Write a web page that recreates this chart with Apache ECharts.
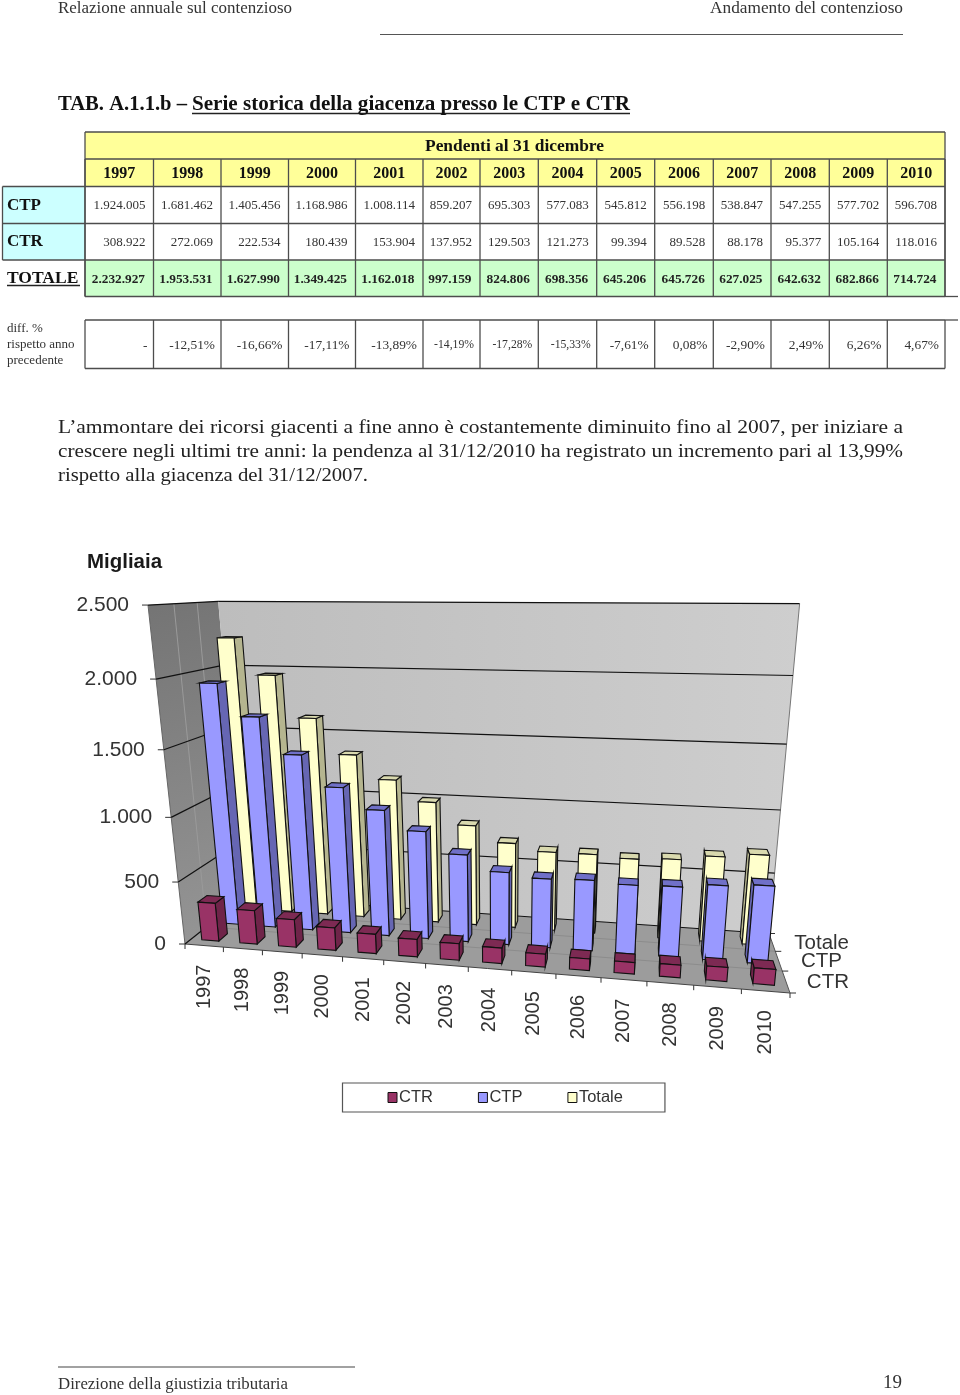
<!DOCTYPE html>
<html>
<head>
<meta charset="utf-8">
<style>html,body{margin:0;padding:0;background:#fff}#c{width:960px;height:1395px}</style>
<script src="https://cdn.jsdelivr.net/npm/echarts@6/dist/echarts.min.js"></script>
</head>
<body>
<div id="c"></div>
<script>
// ---------- data ----------
const years = ['1997','1998','1999','2000','2001','2002','2003','2004','2005','2006','2007','2008','2009','2010'];
const ctp = [1924005,1681462,1405456,1168986,1008114,859207,695303,577083,545812,556198,538847,547255,577702,596708];
const ctr = [308922,272069,222534,180439,153904,137952,129503,121273,99394,89528,88178,95377,105164,118016];
const totale = [2232927,1953531,1627990,1349425,1162018,997159,824806,698356,645206,645726,627025,642632,682866,714724];
const diffPct = ['-','-12,51%','-16,66%','-17,11%','-13,89%','-14,19%','-17,28%','-15,33%','-7,61%','0,08%','-2,90%','2,49%','6,26%','4,67%'];
const valueTicks = [0,500,1000,1500,2000,2500];
const tickLabels = ['0','500','1.000','1.500','2.000','2.500'];
const depthLabels = ['CTR','CTP','Totale'];
const paragraph = [
  'L\u2019ammontare dei ricorsi giacenti a fine anno è costantemente diminuito fino al 2007, per iniziare a',
  'crescere negli ultimi tre anni: la pendenza al 31/12/2010 ha registrato un incremento pari al 13,99%',
  'rispetto alla giacenza del 31/12/2007.'
];

// ---------- layout ----------
const SERIF = '"Liberation Serif"', SANS = '"Liberation Sans"';
const colX = [85,153.5,221,288.5,355.5,423,480,538.3,596.7,654.7,713.3,771,829.3,887.3,945];
const rowY = {top:132,head:159,years:186.5,ctp:223.5,ctr:260,tot:296.5,dTop:320,dBot:368.5};
const LINE = '#4d4d4d';
const GRID = {left:150,top:600,width:640,height:340};

// perspective: floor quad (front-left, front-right, back-right, back-left), vertical vanishing point
const Q = [[185,944],[790,993],[769,933.5],[244,897]];
const VP = [500,3830], K = -0.1051;
const H = (function(){
  const [p0,p1,p2,p3]=Q;
  const dx1=p1[0]-p2[0],dx2=p3[0]-p2[0],sx=p0[0]-p1[0]+p2[0]-p3[0];
  const dy1=p1[1]-p2[1],dy2=p3[1]-p2[1],sy=p0[1]-p1[1]+p2[1]-p3[1];
  const den=dx1*dy2-dx2*dy1;
  const g=(sx*dy2-dx2*sy)/den,h=(dx1*sy-sx*dy1)/den;
  return {a:p1[0]-p0[0]+g*p1[0],b:p3[0]-p0[0]+h*p3[0],c:p0[0],d:p1[1]-p0[1]+g*p1[1],e:p3[1]-p0[1]+h*p3[1],f:p0[1],g:g,h:h};
})();
function proj(u,w,vf){
  const t=K*vf;
  const W=H.g*u+H.h*w+1+t;
  return [(H.a*u+H.b*w+H.c+t*VP[0])/W,(H.d*u+H.e*w+H.f+t*VP[1])/W];
}
function flat(pt){ return [(pt[0]-GRID.left)/GRID.width,(GRID.top+GRID.height-pt[1])/GRID.height]; }

// ---------- text helpers ----------
const mctx=document.createElement('canvas').getContext('2d');
function tx(o){
  const font=(o.bold?'bold ':'')+o.size+'px '+(o.family||SERIF);
  let sx=1;
  if(o.w){mctx.font=font;sx=o.w/mctx.measureText(o.text).width;}
  return {type:'text',x:o.x,y:o.y+1,scaleX:sx,silent:true,z:10,style:{text:o.text,fontSize:o.size,fontFamily:o.family||SERIF,fontWeight:o.bold?'bold':'normal',fill:o.fill||'#222',align:o.align||'left',verticalAlign:'middle'}};
}
function ln(x1,y1,x2,y2,c,lw){return {type:'line',silent:true,z:9,shape:{x1,y1,x2,y2},style:{stroke:c||LINE,lineWidth:lw||1.3}};}
function rc(x,y,w,h,fill){return {type:'rect',silent:true,z:8,shape:{x,y,width:w,height:h},style:{fill}};}
const dots=n=>String(n).replace(/\B(?=(\d{3})+$)/g,'.');

// ---------- page furniture and table ----------
const g=[];
g.push(tx({text:'Relazione annuale sul contenzioso',x:58,y:8,size:17,w:234,fill:'#333'}));
g.push(tx({text:'Andamento del contenzioso',x:903,y:8,size:17,w:193,align:'right',fill:'#333'}));
g.push(ln(380,34.5,903,34.5,'#555',1.2));
g.push(tx({text:'TAB. A.1.1.b \u2013',x:58,y:104,size:20,w:129,bold:true,fill:'#111'}));
g.push(tx({text:'Serie storica della giacenza presso le CTP e CTR',x:192,y:104,size:20,w:438,bold:true,fill:'#111'}));
g.push(ln(192,113.5,630,113.5,'#222',1.4));
// fills
g.push(rc(85,rowY.top,860,rowY.years-rowY.top,'#FFFF99'));
g.push(rc(2.5,rowY.years,82.5,rowY.ctr-rowY.years,'#CCFFFF'));
g.push(rc(85,rowY.ctr,860,rowY.tot-rowY.ctr,'#CCFFCC'));
// horizontal rules
[rowY.top,rowY.head,rowY.years,rowY.ctp,rowY.ctr,rowY.tot,rowY.dTop,rowY.dBot].forEach(y=>g.push(ln(85,y,945,y)));
[rowY.years,rowY.ctp,rowY.ctr].forEach(y=>g.push(ln(2.5,y,85,y)));
g.push(ln(2.5,rowY.years,2.5,rowY.ctr));
g.push(ln(945,rowY.tot,958,rowY.tot));g.push(ln(945,rowY.dTop,958,rowY.dTop));
g.push(ln(85,rowY.top,85,rowY.tot));g.push(ln(945,rowY.top,945,rowY.tot));
colX.forEach(x=>{g.push(ln(x,rowY.head,x,rowY.tot));g.push(ln(x,rowY.dTop,x,rowY.dBot));});
g.push(tx({text:'Pendenti al 31 dicembre',x:514.5,y:145.5,size:16,bold:true,align:'center',w:179,fill:'#111'}));
const smallPct={'-14,19%':1,'-17,28%':1,'-15,33%':1};
years.forEach((y,i)=>{
  const r=colX[i+1];
  g.push(tx({text:y,x:(colX[i]+r)/2,y:172.5,size:16,bold:true,align:'center',fill:'#111'}));
  g.push(tx({text:dots(ctp[i]),x:r-8,y:205,size:13,align:'right',fill:'#333'}));
  g.push(tx({text:dots(ctr[i]),x:r-8,y:241.5,size:13,align:'right',fill:'#333'}));
  g.push(tx({text:dots(totale[i]),x:r-8.5,y:278.5,size:13.3,bold:true,align:'right',fill:'#222'}));
  g.push(tx({text:diffPct[i],x:r-6,y:344,size:smallPct[diffPct[i]]?11.7:13.4,align:'right',fill:'#333'}));
});
g.push(tx({text:'CTP',x:7,y:204.5,size:17,bold:true,fill:'#111'}));
g.push(tx({text:'CTR',x:7,y:241,size:17,bold:true,fill:'#111'}));
g.push(tx({text:'TOTALE',x:7,y:277.5,size:17.5,bold:true,fill:'#111'}));
g.push(ln(7,285.5,80,285.5,'#222',1.3));
['diff. %','rispetto anno','precedente'].forEach((t,i)=>g.push(tx({text:t,x:7,y:328+16*i,size:13,fill:'#333'})));
// paragraph
g.push(tx({text:paragraph[0],x:58,y:427,size:19,w:845}));
g.push(tx({text:paragraph[1],x:58,y:451,size:19,w:845}));
g.push(tx({text:paragraph[2],x:58,y:475,size:19,w:310}));
// footer
g.push(ln(58,1367,355,1367,'#444',1.2));
g.push(tx({text:'Direzione della giustizia tributaria',x:58,y:1384,size:17,w:230,fill:'#333'}));
g.push(tx({text:'19',x:902,y:1382.5,size:19,align:'right',fill:'#333'}));
// chart title
g.push(tx({text:'Migliaia',x:87,y:561,size:20,w:75,bold:true,family:SANS,fill:'#1a1a1a'}));

// ---------- chart pieces ----------
function poly(points,fill,stroke,lw){return {type:'polygon',shape:{points},style:{fill:fill,stroke:stroke||'none',lineWidth:lw||0}};}
function seg(a,b,c,lw){return {type:'line',shape:{x1:a[0],y1:a[1],x2:b[0],y2:b[1]},style:{stroke:c,lineWidth:lw}};}
function grad(x,y,x2,y2,c1,c2){return new echarts.graphic.LinearGradient(x,y,x2,y2,[{offset:0,color:c1},{offset:1,color:c2}]);}

function renderWalls(){
  return {type:'group',children:[
    poly([proj(0,0,1),proj(0,1,1),proj(0,1,0),proj(0,0,0)],grad(0,0,1,1,'#747474','#969696')),
    poly([proj(0,1,1),proj(1,1,1),proj(1,1,0),proj(0,1,0)],grad(0,0,1,0,'#bdbdbd','#cecece')),
    poly([proj(0,0,0),proj(0,1,0),proj(1,1,0),proj(1,0,0)],'#9c9c9c'),
    seg(proj(0,1/3,1),proj(0,1/3,0),'#9a9a9a',1),
    seg(proj(0,2/3,1),proj(0,2/3,0),'#9a9a9a',1),
    seg(proj(0,1/3,0),proj(1,1/3,0),'#8c8c8c',1),
    seg(proj(0,2/3,0),proj(1,2/3,0),'#8c8c8c',1),
    seg(proj(1,1,1),proj(1,1,0),'#777',1),
    seg(proj(0,0,1),proj(0,0,0),'#666',1),
    seg(proj(0,0,0),proj(1,0,0),'#444',1),
    seg(proj(1,0,0),proj(1,1,0),'#555',1)
  ]};
}
function renderValueTick(params,api){
  const i=params.dataIndex,v=api.value(1);
  const vf=flat(api.coord([0,v]))[1];
  const a=proj(0,0,vf),b=proj(0,1,vf),c=proj(1,1,vf);
  const ch=[seg(a,b,'#111',1.2),seg(b,c,'#111',1.2),seg([a[0]-6,a[1]],a,'#333',1),
    {type:'text',x:a[0]-19,y:a[1],style:{text:tickLabels[i],fontSize:21,fontFamily:SANS,fill:'#333',align:'right',verticalAlign:'middle'}}];
  return {type:'group',children:ch};
}
function renderCategoryTick(params,api){
  const i=api.value(0);
  const c=api.coord([i,0]),bw=api.size([1,0])[0];
  const m=flat(c),hb=bw/2/GRID.width;
  const left=proj(m[0]-hb,0,0),mid=proj(m[0],0,0);
  const ch=[seg(left,[left[0],left[1]+5],'#333',1),
    {type:'text',x:mid[0],y:mid[1]+19,rotation:Math.PI/2,style:{text:years[i],fontSize:20,fontFamily:SANS,fill:'#333',align:'right',verticalAlign:'middle'}}];
  if(i===years.length-1){const r=proj(m[0]+hb,0,0);ch.push(seg(r,[r[0],r[1]+5],'#333',1));}
  return {type:'group',children:ch};
}
function renderDepth(params,api){
  const i=params.dataIndex;
  const p=proj(1,i/3,0);
  const ch=[seg(p,[p[0]+6,p[1]],'#333',1),
    {type:'text',x:[849,842,849][i],y:[982,961,943][i],style:{text:depthLabels[i],fontSize:20.5,fontFamily:SANS,fill:'#333',align:'right',verticalAlign:'middle'}}];
  if(i===2){const t=proj(1,1,0);ch.push(seg(t,[t[0]+6,t[1]],'#333',1));}
  return {type:'group',children:ch};
}
function barRenderer(row,faces){
  const wc=(row+0.5)/3,wh=0.07;
  return function(params,api){
    const i=api.value(0),val=api.value(1);
    const base=flat(api.coord([i,0])),top=flat(api.coord([i,val]));
    const hb=api.size([1,0])[0]*0.225/GRID.width;
    const u0=base[0]-hb,u1=base[0]+hb,w0=wc-wh,w1=wc+wh,v=top[1];
    const P=(u,w,vf)=>proj(u,w,vf);
    const ch=[];
    const E='#111',L=1.1;
    if(P(u1,w1,0)[0]>P(u1,w0,0)[0]) ch.push(poly([P(u1,w0,v),P(u1,w1,v),P(u1,w1,0),P(u1,w0,0)],faces.side,E,L));
    if(P(u0,w1,0)[0]<P(u0,w0,0)[0]) ch.push(poly([P(u0,w0,v),P(u0,w1,v),P(u0,w1,0),P(u0,w0,0)],faces.side,E,L));
    ch.push(poly([P(u0,w0,v),P(u1,w0,v),P(u1,w1,v),P(u0,w1,v)],faces.top,E,L));
    ch.push(poly([P(u0,w0,v),P(u1,w0,v),P(u1,w0,0),P(u0,w0,0)],faces.front,E,L));
    return {type:'group',children:ch};
  };
}
const kilo=a=>a.map((v,i)=>[i,v/1000]);
function barSeries(name,row,vals,faces){
  return {type:'custom',name,coordinateSystem:'cartesian2d',xAxisIndex:0,yAxisIndex:0,clip:false,silent:true,
    itemStyle:{color:faces.front},encode:{x:0,y:1},data:kilo(vals),renderItem:barRenderer(row,faces)};
}
function helper(name,data,fn){
  return {type:'custom',name,coordinateSystem:'cartesian2d',clip:false,silent:true,encode:{x:0,y:1},data,renderItem:fn};
}

const chart=echarts.init(document.getElementById('c'),null,{renderer:'canvas'});
chart.setOption({
  animation:false,
  backgroundColor:'#fff',
  grid:Object.assign({},GRID,{show:false}),
  xAxis:{type:'category',data:years,show:false},
  yAxis:{type:'value',min:0,max:2500,interval:500,show:false},
  legend:{data:['CTR','CTP','Totale'],left:342.5,top:1083,orient:'horizontal',
    padding:[6,42,6,45],itemGap:45,itemWidth:9,itemHeight:10,selectedMode:false,
    backgroundColor:'#fff',borderColor:'#555',borderWidth:1.2,
    itemStyle:{borderColor:'#111',borderWidth:1},icon:'rect',
    textStyle:{fontFamily:SANS,fontSize:16.5,color:'#333',padding:[1,0,0,-3]}},
  graphic:{elements:g},
  series:[
    helper('walls',[[0,0]],renderWalls),
    helper('valueTicks',valueTicks.map(v=>[0,v]),renderValueTick),
    helper('categoryTicks',years.map((y,i)=>[i,0]),renderCategoryTick),
    helper('depthTicks',depthLabels.map(()=>[0,0]),renderDepth),
    barSeries('Totale',2,totale,{front:'#FFFFCC',side:'#B5B58F',top:'#D9D9AE'}),
    barSeries('CTP',1,ctp,{front:'#9999FF',side:'#6666B3',top:'#7070C8'}),
    barSeries('CTR',0,ctr,{front:'#993366',side:'#6F2449',top:'#7D2A53'})
  ]
});
</script>
</body>
</html>
